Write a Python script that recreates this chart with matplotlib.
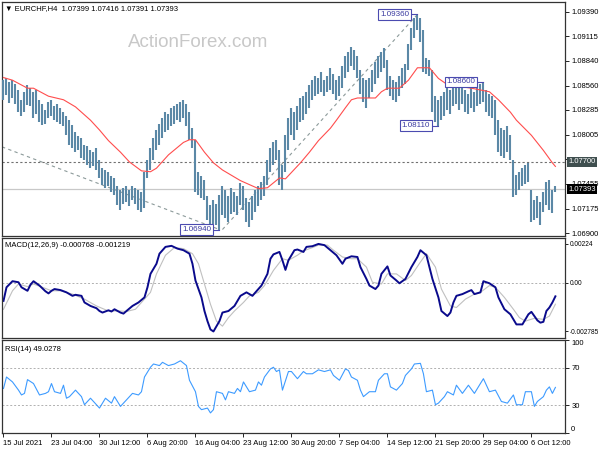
import matplotlib
matplotlib.use('Agg')
import matplotlib.pyplot as plt
import matplotlib.transforms as mtransforms

plt.rcParams['font.family'] = ['Liberation Sans', 'DejaVu Sans']

# price bars (each bar here = two H4 candles), highs / lows
highs = [1.0862, 1.0864, 1.0860, 1.0862, 1.0858, 1.0851, 1.0840, 1.0849, 1.0857, 1.0853,
         1.0849, 1.0851, 1.0840, 1.0835, 1.0828, 1.0837, 1.0840, 1.0833, 1.0835, 1.0831,
         1.0826, 1.0822, 1.0817, 1.0812, 1.0804, 1.0799, 1.0797, 1.0789, 1.0788, 1.0783,
         1.0781, 1.0786, 1.0772, 1.0763, 1.0761, 1.0759, 1.0754, 1.0752, 1.0743, 1.0738,
         1.0741, 1.0743, 1.0738, 1.0743, 1.0741, 1.0738, 1.0736, 1.0759, 1.0772, 1.0786,
         1.0797, 1.0806, 1.0813, 1.0819, 1.0826, 1.0824, 1.0831, 1.0833, 1.0835, 1.0837,
         1.0840, 1.0835, 1.0826, 1.0808, 1.0795, 1.0759, 1.0754, 1.0750, 1.0732, 1.0722,
         1.0727, 1.0723, 1.0733, 1.0743, 1.0738, 1.0732, 1.0741, 1.0736, 1.0732, 1.0746,
         1.0743, 1.0729, 1.0725, 1.0732, 1.0738, 1.0743, 1.0747, 1.0754, 1.0772, 1.0786,
         1.0792, 1.0795, 1.0783, 1.0767, 1.0800, 1.0819, 1.0831, 1.0826, 1.0833, 1.0842,
         1.0844, 1.0849, 1.0857, 1.0862, 1.0867, 1.0864, 1.0871, 1.0862, 1.0867, 1.0876,
         1.0869, 1.0862, 1.0867, 1.0878, 1.0889, 1.0894, 1.0899, 1.0896, 1.0889, 1.0873,
         1.0864, 1.0862, 1.0864, 1.0873, 1.0882, 1.0889, 1.0894, 1.0898, 1.0885, 1.0867,
         1.0862, 1.0860, 1.0867, 1.0876, 1.0880, 1.0903, 1.0921, 1.0932, 1.0936, 1.0932,
         1.0918, 1.0887, 1.0885, 1.0873, 1.0844, 1.0840, 1.0844, 1.0849, 1.0853, 1.0851,
         1.0855, 1.0858, 1.0853, 1.0858, 1.0851, 1.0846, 1.0853, 1.0849, 1.0855, 1.0858,
         1.0860, 1.0851, 1.0846, 1.0844, 1.0840, 1.0817, 1.0808, 1.0806, 1.0810, 1.0800,
         1.0772, 1.0755, 1.0759, 1.0763, 1.0767, 1.0769, 1.0738, 1.0727, 1.0732, 1.0725,
         1.0736, 1.0747, 1.0750, 1.0738, 1.0743]
lows = [1.0840, 1.0845, 1.0836, 1.0842, 1.0835, 1.0826, 1.0822, 1.0826, 1.0834, 1.0833,
        1.0819, 1.0824, 1.0815, 1.0812, 1.0813, 1.0819, 1.0822, 1.0817, 1.0815, 1.0813,
        1.0810, 1.0800, 1.0789, 1.0786, 1.0781, 1.0783, 1.0774, 1.0772, 1.0767, 1.0763,
        1.0765, 1.0761, 1.0752, 1.0744, 1.0741, 1.0743, 1.0736, 1.0733, 1.0722, 1.0716,
        1.0723, 1.0725, 1.0720, 1.0727, 1.0723, 1.0716, 1.0714, 1.0718, 1.0752, 1.0761,
        1.0772, 1.0783, 1.0789, 1.0797, 1.0804, 1.0806, 1.0810, 1.0813, 1.0817, 1.0815,
        1.0819, 1.0810, 1.0795, 1.0786, 1.0736, 1.0733, 1.0729, 1.0727, 1.0705, 1.0698,
        1.0700, 1.0699, 1.0694, 1.0710, 1.0707, 1.0702, 1.0711, 1.0714, 1.0710, 1.0722,
        1.0716, 1.0702, 1.0697, 1.0705, 1.0714, 1.0720, 1.0727, 1.0732, 1.0744, 1.0759,
        1.0767, 1.0772, 1.0744, 1.0738, 1.0759, 1.0783, 1.0800, 1.0795, 1.0806, 1.0815,
        1.0817, 1.0824, 1.0831, 1.0840, 1.0844, 1.0846, 1.0849, 1.0844, 1.0849, 1.0851,
        1.0846, 1.0840, 1.0844, 1.0853, 1.0864, 1.0871, 1.0878, 1.0873, 1.0864, 1.0846,
        1.0837, 1.0831, 1.0842, 1.0849, 1.0858, 1.0864, 1.0871, 1.0876, 1.0851, 1.0844,
        1.0840, 1.0837, 1.0844, 1.0853, 1.0858, 1.0873, 1.0896, 1.0909, 1.0918, 1.0905,
        1.0871, 1.0869, 1.0867, 1.0826, 1.0815, 1.0811, 1.0817, 1.0822, 1.0828, 1.0824,
        1.0833, 1.0835, 1.0828, 1.0835, 1.0826, 1.0824, 1.0831, 1.0826, 1.0833, 1.0835,
        1.0837, 1.0826, 1.0822, 1.0819, 1.0800, 1.0781, 1.0777, 1.0774, 1.0781, 1.0772,
        1.0731, 1.0733, 1.0738, 1.0743, 1.0745, 1.0747, 1.0702, 1.0705, 1.0707, 1.0699,
        1.0714, 1.0722, 1.0716, 1.0713, 1.0736]

# moving average (red)
ma_idx = [0, 3, 8, 10, 15, 20, 24, 27, 29, 32, 35, 39, 42, 46, 49, 51, 55, 60, 62, 64,
          67, 70, 73, 79, 85, 88, 92, 94, 99, 102, 105, 109, 111, 114, 116, 118, 124, 126,
          128, 132, 135, 138, 142, 145, 148, 156, 162, 165, 169, 171, 176, 180, 183, 184]
ma_val = [1.0865, 1.0862, 1.0853, 1.0853, 1.0844, 1.0840, 1.0832, 1.0823, 1.0817, 1.0806,
          1.0794, 1.0781, 1.0770, 1.0760, 1.0759, 1.0763, 1.0778, 1.0792, 1.0795, 1.0795,
          1.0781, 1.0769, 1.0761, 1.0749, 1.0740, 1.0741, 1.0752, 1.0751, 1.0769, 1.0781,
          1.0794, 1.0808, 1.0817, 1.0831, 1.0840, 1.0842, 1.0842, 1.0849, 1.0853, 1.0853,
          1.0862, 1.0876, 1.0876, 1.0864, 1.0857, 1.0853, 1.0849, 1.0840, 1.0826, 1.0817,
          1.0800, 1.0783, 1.0769, 1.0765]

# swing labels and trend lines
swing_idx = [138, 160, 145, 72]
swing_px = [1.09360, 1.08600, 1.08110, 1.06940]
trend1_idx = [-0.5, 72]
trend1_px = [1.0787, 1.0694]
trend2_idx = [73, 138]
trend2_px = [1.0694, 1.0936]
level_px = 1.07700
last_px = 1.07393

# MACD main / signal
macd_idx = [0, 1, 3, 5, 6, 8, 9, 10, 12, 14, 15, 16, 17, 19, 21, 23, 24, 26, 27, 29, 31, 32,
            33, 35, 36, 37, 39, 40, 41, 43, 45, 47, 48, 49, 51, 52, 54, 56, 58, 60, 62, 63,
            64, 66, 67, 68, 69, 70, 72, 73, 75, 77, 79, 81, 83, 84, 86, 88, 89, 90, 92, 93,
            94, 95, 97, 98, 100, 101, 103, 105, 107, 109, 111, 113, 114, 116, 118, 119, 121,
            122, 124, 125, 126, 128, 129, 131, 132, 134, 136, 138, 139, 141, 142, 143, 145,
            146, 148, 149, 150, 151, 153, 155, 156, 157, 159, 160, 162, 164, 165, 167, 169,
            171, 173, 175, 176, 178, 179, 180, 181, 182, 183, 184]
macd_val = [-0.00103, -0.00025, 0.00010, 0.00004, -0.00025, -0.00045, -0.00010, 0.00010,
            -0.00015, -0.00048, -0.00060, -0.00045, -0.00035, -0.00041, -0.00054, -0.00074,
            -0.00068, -0.00074, -0.00112, -0.00132, -0.00145, -0.00161, -0.00170, -0.00157,
            -0.00164, -0.00151, -0.00170, -0.00176, -0.00161, -0.00132, -0.00112, -0.00083,
            -0.00025, 0.00052, 0.00110, 0.00168, 0.00207, 0.00213, 0.00197, 0.00188, 0.00168,
            0.00110, 0.00014, -0.00083, -0.00161, -0.00219, -0.00267, -0.002785, -0.00219,
            -0.00170, -0.00161, -0.00132, -0.00074, -0.00054, -0.00074, -0.00054, -0.00015,
            0.00052, 0.00139, 0.00164, 0.00178, 0.00130, 0.00075, 0.00130, 0.00188, 0.00192,
            0.00178, 0.00207, 0.00211, 0.00224, 0.00217, 0.00188, 0.00159, 0.00110, 0.00139,
            0.00153, 0.00149, 0.00091, 0.00023, -0.00015, -0.00035, -0.00015, 0.00052,
            0.00095, 0.00043, 0.00014, -0.00002, 0.00023, 0.00091, 0.00149, 0.00188, 0.00159,
            0.00091, 0.00023, -0.00083, -0.00161, -0.00190, -0.00170, -0.00112, -0.00074,
            -0.00064, -0.00048, -0.00041, -0.00064, -0.00054, 0.00010, -0.00002, -0.00025,
            -0.00083, -0.00151, -0.00180, -0.00238, -0.00238, -0.00180, -0.00166, -0.00215,
            -0.00228, -0.00223, -0.00161, -0.00141, -0.00112, -0.000768]
sig_idx = [0, 3, 5, 8, 10, 13, 16, 19, 23, 27, 31, 35, 39, 41, 44, 46, 49, 51, 54, 57, 60,
           63, 65, 67, 69, 71, 73, 75, 77, 80, 82, 85, 87, 90, 93, 95, 98, 100, 103, 105,
           108, 110, 113, 116, 118, 121, 123, 126, 128, 131, 134, 136, 139, 141, 144, 146,
           149, 151, 154, 157, 159, 162, 164, 167, 170, 172, 174, 177, 180, 182, 184]
sig_val = [-0.00151, -0.00045, -0.00006, -0.00021, -0.00006, -0.00025, -0.00045, -0.00045,
           -0.00064, -0.00093, -0.00132, -0.00161, -0.00161, -0.00164, -0.00151, -0.00112,
           -0.00054, 0.00052, 0.00159, 0.00203, 0.00197, 0.00168, 0.00110, -0.00006, -0.00122,
           -0.00219, -0.00248, -0.00199, -0.00161, -0.00112, -0.00074, -0.00054, -0.00015,
           0.00072, 0.00139, 0.00130, 0.00159, 0.00184, 0.00203, 0.00217, 0.00217, 0.00188,
           0.00149, 0.00139, 0.00139, 0.00091, 0.00004, -0.00006, 0.00052, 0.00052, 0.00014,
           0.00043, 0.00120, 0.00168, 0.00091, -0.00035, -0.00132, -0.00141, -0.00093,
           -0.00064, -0.00054, -0.00015, -0.00025, -0.00083, -0.00151, -0.00199, -0.00219,
           -0.00203, -0.00209, -0.00190, -0.001219]

# RSI(14)
rsi_idx = [0, 1, 3, 5, 6, 7, 8, 10, 12, 14, 15, 16, 17, 19, 20, 21, 22, 24, 26, 27, 29, 30,
           32, 34, 36, 37, 39, 41, 43, 45, 46, 47, 49, 50, 52, 53, 55, 57, 59, 61, 62, 64, 65,
           66, 68, 69, 70, 71, 73, 74, 75, 77, 78, 79, 80, 82, 84, 85, 86, 87, 89, 90, 91, 92,
           93, 95, 96, 98, 100, 101, 103, 105, 107, 109, 110, 112, 114, 115, 116, 118, 119,
           120, 122, 124, 125, 127, 128, 129, 131, 133, 134, 136, 137, 139, 140, 141, 143, 144,
           145, 147, 148, 150, 151, 153, 155, 157, 159, 160, 162, 164, 166, 168, 170, 171, 173,
           174, 176, 177, 178, 180, 181, 182, 183, 184]
rsi_val = [47.9, 60.2, 54.9, 46.1, 40.9, 42.6, 57.4, 53.2, 40.9, 42.6, 44.4, 53.2, 44.4, 42.6,
           51.4, 37.4, 39.1, 46.1, 39.1, 30.4, 37.4, 33.9, 26.8, 37.4, 32.1, 39.1, 28.6, 35.6,
           42.6, 40.9, 44.4, 60.2, 70.7, 74.2, 72.5, 76.0, 72.5, 74.2, 77.7, 72.5, 56.7, 44.4,
           28.6, 25.1, 26.8, 21.6, 25.1, 44.4, 42.6, 35.6, 44.4, 42.6, 47.9, 44.4, 54.9, 44.4,
           46.1, 54.9, 51.4, 60.2, 68.9, 70.7, 66.1, 67.9, 46.1, 66.1, 66.1, 58.4, 66.1, 63.7,
           63.7, 67.9, 66.1, 67.9, 61.9, 56.7, 68.9, 67.2, 60.2, 56.7, 46.1, 39.1, 44.4, 44.4,
           56.7, 63.7, 63.7, 49.6, 46.1, 53.2, 61.9, 68.9, 74.2, 74.9, 63.7, 44.4, 46.1, 30.4,
           32.1, 39.1, 44.4, 40.9, 51.4, 42.6, 51.4, 42.6, 53.2, 58.4, 44.4, 46.1, 33.9, 32.1,
           40.9, 30.4, 30.4, 44.4, 44.4, 28.6, 33.9, 39.1, 46.1, 49.6, 42.6, 49.0278]

date_idx = [0, 16, 32, 48, 64, 80, 96, 112, 128, 144, 160, 176]
date_labels = ['15 Jul 2021', '23 Jul 04:00', '30 Jul 12:00', '6 Aug 20:00', '16 Aug 04:00',
               '23 Aug 12:00', '30 Aug 20:00', '7 Sep 04:00', '14 Sep 12:00', '21 Sep 20:00',
               '29 Sep 04:00', '6 Oct 12:00']
# 1.07730 sits behind the 1.07700 box in the original, so its label is left blank
price_ticks = [1.06900, 1.07175, 1.07455, 1.07730, 1.08005, 1.08285, 1.08560, 1.08840,
               1.09115, 1.09390]
price_tick_labels = ['1.06900', '1.07175', '1.07455', '', '1.08005', '1.08285', '1.08560',
                     '1.08840', '1.09115', '1.09390']

fs = 5.5
bar_x = list(range(len(highs)))

fig = plt.figure(figsize=(6, 4.5), dpi=100)
ax1 = fig.add_axes([0.00333, 0.47556, 0.93833, 0.52])
ax2 = fig.add_axes([0.00333, 0.24889, 0.93833, 0.22222])
ax3 = fig.add_axes([0.00333, 0.03778, 0.93833, 0.20667])

for ax in (ax1, ax2, ax3):
    ax.set_xlim(-0.5, 187.2)
    ax.yaxis.tick_right()
    ax.tick_params(axis='y', direction='out', length=3, width=0.6, labelsize=fs, pad=1.5)
    ax.tick_params(axis='x', direction='out', length=3, width=0.6, labelsize=fs, pad=2)
    for s in ax.spines.values():
        s.set_linewidth(0.9)
        s.set_color('#333333')

# main panel
ax1.vlines(bar_x, lows, highs, color='#5b88a6', lw=1.5, zorder=3)
ax1.plot(ma_idx, ma_val, color='#ff4d4d', lw=0.8, zorder=4)
ax1.plot(trend1_idx, trend1_px, color='#8c9a9a', lw=0.8, ls=(0, (3, 3)), zorder=2)
ax1.plot(trend2_idx, trend2_px, color='#8c9a9a', lw=0.8, ls=(0, (3, 3)), zorder=2)
ax1.axhline(level_px, color='#707070', lw=0.8, ls=(0, (2, 2)), zorder=2)
ax1.axhline(last_px, color='#c8c8c8', lw=0.9, zorder=1)
ax1.set_ylim(1.06867, 1.09500)
ax1.set_yticks(price_ticks)
ax1.set_yticklabels(price_tick_labels)
ax1.set_xticks([])

for j, p in zip(swing_idx, swing_px):
    ax1.plot([j - 2.3, j], [p, p], color='#4b4bb0', lw=0.8, zorder=5)
    ax1.text(j - 2.8, p, '%.5f' % p, ha='right', va='center', fontsize=5.8, color='#3a3aa0',
             zorder=6, bbox=dict(boxstyle='square,pad=0.2', fc='white', ec='#4b4bb0', lw=0.8))

tr = mtransforms.blended_transform_factory(ax1.transAxes, ax1.transData)
ax1.text(1.006, level_px, '%.5f' % level_px, transform=tr, ha='left', va='center',
         fontsize=fs, color='white', clip_on=False, zorder=10,
         bbox=dict(boxstyle='square,pad=0.2', fc='#3f4f4f', ec='none'))
ax1.text(1.006, last_px, '%.5f' % last_px, transform=tr, ha='left', va='center',
         fontsize=fs, color='white', clip_on=False, zorder=10,
         bbox=dict(boxstyle='square,pad=0.2', fc='black', ec='none'))

ax1.text(0.006, 0.988, '\u25bc EURCHF,H4  1.07399 1.07416 1.07391 1.07393',
         transform=ax1.transAxes, ha='left', va='top', fontsize=fs, color='black')
ax1.text(0.348, 0.825, 'ActionForex.com', transform=ax1.transAxes, ha='center',
         va='center', fontsize=13.5, color='#c8c8c8')

# MACD panel
ax2.axhline(0, color='#b0b0b0', lw=0.7, ls=(0, (2, 2)))
ax2.plot(sig_idx, sig_val, color='#c0c0c0', lw=0.8)
ax2.plot(macd_idx, macd_val, color='#0a0a8c', lw=1.4)
ax2.set_ylim(-0.00316, 0.00258)
ax2.set_yticks([-0.002785, 0, 0.00224])
ax2.set_yticklabels(['-0.002785', '0.00', '0.00224'])
ax2.tick_params(axis='y', labelsize=4.7, pad=0.8, length=2.5)
ax2.set_xticks([])
ax2.text(0.006, 0.96, 'MACD(12,26,9) -0.000768 -0.001219', transform=ax2.transAxes,
         ha='left', va='top', fontsize=fs, color='black')

# RSI panel
ax3.axhline(70, color='#b0b0b0', lw=0.7, ls=(0, (2, 2)))
ax3.axhline(30, color='#b0b0b0', lw=0.7, ls=(0, (2, 2)))
ax3.plot(rsi_idx, rsi_val, color='#3d9bff', lw=0.8)
ax3.set_ylim(0, 100)
ax3.set_yticks([0, 30, 70, 100])
ax3.set_yticklabels(['0', '30', '70', '100'])
yt = ax3.yaxis.get_major_ticks()
yt[0].label2.set_va('bottom')
yt[3].label2.set_va('top')
ax3.set_xticks(date_idx)
ax3.set_xticklabels(date_labels, ha='left')
ax3.text(0.006, 0.935, 'RSI(14) 49.0278', transform=ax3.transAxes,
         ha='left', va='top', fontsize=fs, color='black')

fig.savefig('out.png', dpi=100, facecolor='white')
